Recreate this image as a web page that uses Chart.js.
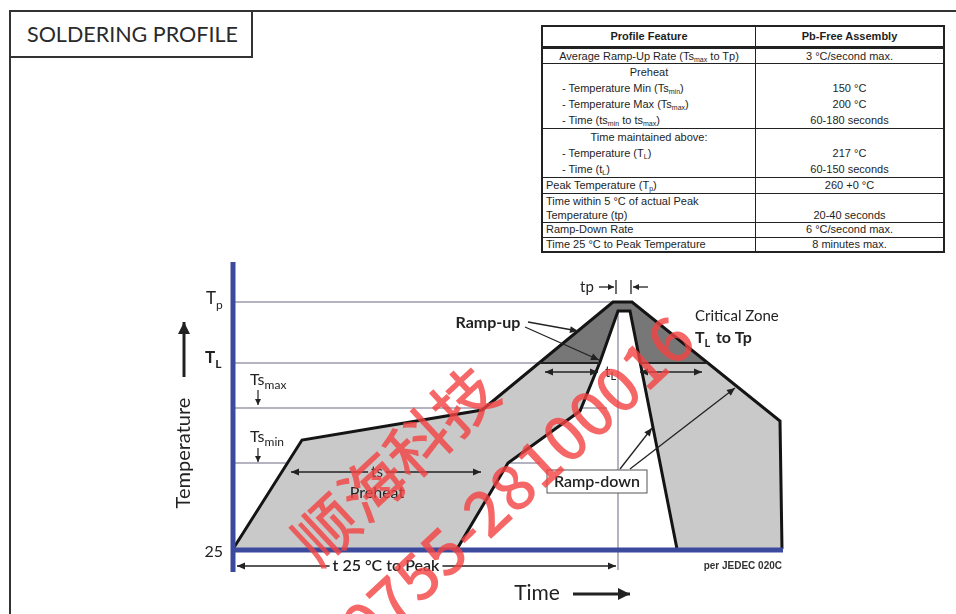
<!DOCTYPE html>
<html>
<head>
<meta charset="utf-8">
<script src="https://cdn.jsdelivr.net/npm/chart.js@4.4.0/dist/chart.umd.min.js"></script>
<style>
    body { margin: 0; background: #fff; }
    #page { position: relative; width: 956px; height: 614px; overflow: hidden; background: #fff; }
    #chartbox { position: absolute; left: 0; top: 0; width: 956px; height: 614px; }
    #frame { position: absolute; left: 9px; top: 10px; width: 1000px; height: 700px;
        border-top: 2px solid #333; border-left: 2px solid #333; }
    #title { position: absolute; left: 9px; top: 10px; width: 244px; height: 48px; box-sizing: border-box;
        border: 2px solid #333; background: #fff; font: 21.5px Lato, sans-serif; color: #2a2a2a;
        line-height: 44px; padding-left: 16px; }
    #spec { position: absolute; left: 541px; top: 25px; width: 404px; border-collapse: collapse;
        border: 2px solid #222; background: #fff; color: #1e1e1e;
        font-family: "Liberation Sans Narrow", "Liberation Sans", Arial, sans-serif; font-size: 11px; }
    #spec td { border: 1.5px solid #222; padding: 0 3px; vertical-align: top; line-height: 14px; white-space: nowrap; }
    #spec th { border: 1.5px solid #222; border-bottom-width: 3px; font-weight: bold; height: 17px; line-height: 17px; }
    #spec td.l { width: 206px; }
    #spec td.r { text-align: center; }
    #spec .c { text-align: center; }
    #spec .ind { padding-left: 16px; }
    #spec .g1 div { line-height: 16px; }
    #spec .g2 div { line-height: 16px; }
    #spec .g3 div { line-height: 14px; }
    #spec tr.p td { line-height: 15px; }
    #spec tr.s td { line-height: 13.5px; }
    #spec tr.e td { line-height: 13px; }
    #spec sub { font-size: 7px; vertical-align: -2px; line-height: 0; }
</style>
</head>
<body>
<div id="page">
    <div id="chartbox"><canvas id="profilChart"></canvas></div>
    <div id="frame"></div>
    <div id="title">SOLDERING PROFILE</div>
    <table id="spec">
        <tr><th>Profile Feature</th><th>Pb-Free Assembly</th></tr>
        <tr><td class="l c">Average Ramp-Up Rate (Ts<sub>max</sub> to Tp)</td><td class="r">3 °C/second max.</td></tr>
        <tr class="g1">
            <td class="l"><div class="c">Preheat</div><div class="ind">- Temperature Min (Ts<sub>min</sub>)</div><div class="ind">- Temperature Max (Ts<sub>max</sub>)</div><div class="ind">- Time (ts<sub>min</sub> to ts<sub>max</sub>)</div></td>
            <td class="r"><div>&nbsp;</div><div>150 °C</div><div>200 °C</div><div>60-180 seconds</div></td>
        </tr>
        <tr class="g2">
            <td class="l"><div class="c">Time maintained above:</div><div class="ind">- Temperature (T<sub>L</sub>)</div><div class="ind">- Time (t<sub>L</sub>)</div></td>
            <td class="r"><div>&nbsp;</div><div>217 °C</div><div>60-150 seconds</div></td>
        </tr>
        <tr class="p"><td class="l">Peak Temperature (T<sub>p</sub>)</td><td class="r">260 +0 °C</td></tr>
        <tr class="g3">
            <td class="l"><div>Time within 5 °C of actual Peak</div><div>Temperature (tp)</div></td>
            <td class="r"><div>&nbsp;</div><div>20-40 seconds</div></td>
        </tr>
        <tr class="s"><td class="l">Ramp-Down Rate</td><td class="r">6 °C/second max.</td></tr>
        <tr class="e"><td class="l">Time 25 °C to Peak Temperature</td><td class="r">8 minutes max.</td></tr>
    </table>
</div>
<script>
// Niveaux de température (échelle du schéma, 0 = 25 °C)
const levelLabels = ['25', 'Ts_min', 'Ts_max', 'T_L', 'T_p'];
const levelValues = [0, 86, 141, 186, 247];

// Profil extérieur (limite haute) et intérieur (limite basse)
const outerTime = [0, 69, 249, 380, 399, 547, 549];
const outerTemp = [0, 109, 139, 247, 247, 128, 0];
const innerTime = [224, 275, 347, 367, 385, 397, 444];
const innerTemp = [0, 86, 138, 187, 238, 238, 0];

const TL = levelValues[3];

function points(xs, ys) {
    return xs.map((x, i) => ({ x: x, y: ys[i] }));
}

// partie d'une courbe au-dessus d'un niveau (zone critique)
function partAbove(xs, ys, level) {
    const out = [];
    for (let i = 0; i < xs.length; i++) {
        if (i > 0 && (ys[i - 1] - level) * (ys[i] - level) < 0) {
            const t = (level - ys[i - 1]) / (ys[i] - ys[i - 1]);
            out.push({ x: xs[i - 1] + t * (xs[i] - xs[i - 1]), y: level });
        }
        if (ys[i] >= level) out.push({ x: xs[i], y: ys[i] });
    }
    return out;
}

const outerPts = points(outerTime, outerTemp);
const innerPts = points(innerTime, innerTemp);
const bodyPts = outerPts.concat(innerPts.slice().reverse());
const outerHigh = partAbove(outerTime, outerTemp, TL);
const innerHigh = partAbove(innerTime, innerTemp, TL);
const zonePts = outerHigh.concat(innerHigh.slice().reverse());

const FONT = 'Lato, "Open Sans", sans-serif';

function fleche(ctx, x1, y1, x2, y2, deux, long, demi) {
    long = long || 8; demi = demi || 3.5;
    ctx.beginPath();
    ctx.moveTo(x1, y1);
    ctx.lineTo(x2, y2);
    ctx.stroke();
    const tete = (ax, ay, bx, by) => {
        const a = Math.atan2(by - ay, bx - ax);
        ctx.beginPath();
        ctx.moveTo(bx, by);
        ctx.lineTo(bx - long * Math.cos(a) + demi * Math.sin(a), by - long * Math.sin(a) - demi * Math.cos(a));
        ctx.lineTo(bx - long * Math.cos(a) - demi * Math.sin(a), by - long * Math.sin(a) + demi * Math.cos(a));
        ctx.closePath();
        ctx.fill();
    };
    tete(x1, y1, x2, y2);
    if (deux) tete(x2, y2, x1, y1);
}

function indice(ctx, base, s, x, y, f1, f2, dy) {
    ctx.textAlign = 'left';
    ctx.font = f1;
    ctx.fillText(base, x, y);
    const w = ctx.measureText(base).width;
    ctx.font = f2;
    ctx.fillText(s, x + w, y + dy);
}

const profilPlugin = {
    id: 'profil',
    beforeDatasetsDraw(chart) {
        const ctx = chart.ctx;
        const X = v => chart.scales.x.getPixelForValue(v);
        const Y = v => chart.scales.y.getPixelForValue(v);
        ctx.save();
        ctx.lineWidth = 1.5;
        // lignes de niveau
        const ends = [0, 307, 374, 307, 380];
        ctx.strokeStyle = '#9b9bab';
        for (let i = 1; i < levelValues.length; i++) {
            ctx.beginPath();
            ctx.moveTo(X(0), Y(levelValues[i]));
            ctx.lineTo(X(ends[i]), Y(levelValues[i]));
            ctx.stroke();
        }
        // verticales
        ctx.beginPath();
        ctx.moveTo(X(385), Y(238)); ctx.lineTo(X(385), Y(-21));
        ctx.stroke();
        ctx.strokeStyle = '#8a8ab0';
        ctx.lineWidth = 1.2;
        ctx.beginPath();
        ctx.moveTo(X(250), Y(141)); ctx.lineTo(X(250), Y(74));
        ctx.moveTo(X(57), Y(86)); ctx.lineTo(X(57), Y(74));
        ctx.stroke();
        ctx.restore();
    },
    afterDatasetsDraw(chart) {
        const ctx = chart.ctx;
        const X = v => chart.scales.x.getPixelForValue(v);
        const Y = v => chart.scales.y.getPixelForValue(v);
        ctx.save();
        // bas de la zone critique
        ctx.strokeStyle = '#222';
        ctx.lineWidth = 2;
        ctx.beginPath();
        ctx.moveTo(X(outerHigh[0].x), Y(TL)); ctx.lineTo(X(innerHigh[0].x), Y(TL));
        ctx.moveTo(X(outerHigh[outerHigh.length - 1].x), Y(TL)); ctx.lineTo(X(innerHigh[innerHigh.length - 1].x), Y(TL));
        ctx.stroke();

        // axes bleus
        ctx.strokeStyle = '#3b4a9c';
        ctx.lineWidth = 5;
        ctx.beginPath();
        ctx.moveTo(X(0), Y(287)); ctx.lineTo(X(0), Y(-23));
        ctx.moveTo(X(-2), Y(-1)); ctx.lineTo(X(550), Y(-1));
        ctx.stroke();

        // cotes
        ctx.strokeStyle = '#222';
        ctx.fillStyle = '#222';
        ctx.lineWidth = 1.3;
        fleche(ctx, X(4), Y(-17), X(383), Y(-17), true);
        fleche(ctx, X(58), Y(77), X(248), Y(77), true);
        fleche(ctx, X(312), Y(177), X(365), Y(177), true);
        fleche(ctx, X(407), Y(177), X(469), Y(177), true);
        // tp
        fleche(ctx, X(366), Y(262), X(381), Y(262), false, 6, 3);
        fleche(ctx, X(415), Y(262), X(400), Y(262), false, 6, 3);
        ctx.beginPath();
        ctx.moveTo(X(383), Y(269)); ctx.lineTo(X(383), Y(255));
        ctx.moveTo(X(398), Y(269)); ctx.lineTo(X(398), Y(255));
        ctx.stroke();
        // ramp-up / ramp-down
        fleche(ctx, X(295), Y(227), X(345), Y(218), false);
        fleche(ctx, X(292), Y(222), X(366), Y(189), false);
        fleche(ctx, X(387), Y(80), X(419), Y(121), false);
        fleche(ctx, X(397), Y(80), X(502), Y(161), false);

        // textes
        ctx.textBaseline = 'middle';
        ctx.textAlign = 'center';
        ctx.font = '600 16px ' + FONT;
        let w = ctx.measureText('t 25 °C to Peak').width;
        ctx.fillStyle = '#fff';
        ctx.fillRect(X(153) - w / 2 - 3, Y(-17) - 8, w + 6, 16);
        ctx.fillStyle = '#222';
        ctx.fillText('t 25 °C to Peak', X(153), Y(-17));

        ctx.font = '15px ' + FONT;
        w = ctx.measureText('ts').width;
        ctx.fillStyle = '#c9c9c9';
        ctx.fillRect(X(144) - w / 2 - 3, Y(77) - 7, w + 6, 14);
        ctx.fillStyle = '#222';
        ctx.fillText('ts', X(144), Y(77));
        ctx.font = '16px ' + FONT;
        ctx.fillText('Preheat', X(144), Y(56));

        indice(ctx, 't', 'L', X(372), Y(177), '15px ' + FONT, '11px ' + FONT, 4);

        ctx.textAlign = 'center';
        ctx.font = '15px ' + FONT;
        ctx.fillText('tp', X(354), Y(262));

        ctx.font = 'bold 16px ' + FONT;
        ctx.fillText('Ramp-up', X(255), Y(226));

        ctx.textAlign = 'left';
        ctx.font = '15px ' + FONT;
        ctx.fillText('Critical Zone', X(462), Y(233));
        indice(ctx, 'T', 'L', X(462), Y(211), 'bold 16px ' + FONT, 'bold 11px ' + FONT, 5);
        ctx.font = 'bold 16px ' + FONT;
        ctx.fillText(' to Tp', X(462) + 17, Y(211));

        // boîte ramp-down
        ctx.fillStyle = '#fff';
        ctx.fillRect(X(314), Y(79), X(414) - X(314), Y(56) - Y(79));
        ctx.strokeStyle = '#555';
        ctx.lineWidth = 1;
        ctx.strokeRect(X(314), Y(79), X(414) - X(314), Y(56) - Y(79));
        ctx.fillStyle = '#222';
        ctx.textAlign = 'center';
        ctx.font = '600 16px ' + FONT;
        ctx.fillText('Ramp-down', X(364), Y(67.5));

        // étiquettes des niveaux
        ctx.textAlign = 'right';
        ctx.font = '16px ' + FONT;
        ctx.fillText(levelLabels[0], X(-10), Y(-3));
        indice(ctx, 'T', 'p', X(-27), Y(levelValues[4] + 3), '17px ' + FONT, '12px ' + FONT, 6);
        indice(ctx, 'T', 'L', X(-28), Y(levelValues[3] + 5), 'bold 17px ' + FONT, 'bold 12px ' + FONT, 6);
        indice(ctx, 'Ts', 'max', X(17), Y(levelValues[2] + 28), '16px ' + FONT, '12px ' + FONT, 5);
        indice(ctx, 'Ts', 'min', X(17), Y(levelValues[1] + 26), '16px ' + FONT, '12px ' + FONT, 5);
        ctx.lineWidth = 1.2;
        ctx.strokeStyle = '#222';
        fleche(ctx, X(25), Y(levelValues[2] + 18), X(25), Y(levelValues[2] + 3), false, 6, 3);
        fleche(ctx, X(25), Y(levelValues[1] + 15), X(25), Y(levelValues[1] + 1), false, 6, 3);

        // titres des axes
        ctx.save();
        ctx.translate(X(-49), Y(96));
        ctx.rotate(-Math.PI / 2);
        ctx.textAlign = 'center';
        ctx.font = '20px ' + FONT;
        ctx.fillText('Temperature', 0, 0);
        ctx.restore();
        ctx.lineWidth = 3;
        fleche(ctx, X(-49), Y(172), X(-49), Y(227), false, 12, 6);

        ctx.textAlign = 'center';
        ctx.font = '21px ' + FONT;
        ctx.fillText('Time', X(304), Y(-44));
        fleche(ctx, X(340), Y(-45), X(397), Y(-45), false, 12, 6);

        ctx.textAlign = 'right';
        ctx.font = 'bold 10px "Liberation Sans Narrow", "Liberation Sans", sans-serif';
        ctx.fillStyle = '#333';
        ctx.fillText('per JEDEC 020C', X(549), Y(-17));
        ctx.restore();
    },
    afterDraw(chart) {
        // filigrane
        const ctx = chart.ctx;
        const lignes = [
            { texte: '顺海科技', cx: 395, cy: 465 },
            { texte: '0755-28100016', cx: 517, cy: 482 }
        ];
        lignes.forEach(l => {
            ctx.save();
            ctx.fillStyle = 'rgba(244, 66, 66, 0.8)';
            ctx.textAlign = 'center';
            ctx.textBaseline = 'middle';
            ctx.translate(l.cx, l.cy);
            ctx.rotate(-43 * Math.PI / 180);
            ctx.font = '500 63px "Noto Sans CJK SC", sans-serif';
            ctx.fillText(l.texte, 0, 0);
            ctx.restore();
        });
    }
};

new Chart(document.getElementById('profilChart').getContext('2d'), {
    type: 'line',
    data: {
        datasets: [
            {
                label: 'Outer',
                data: outerPts,
                borderColor: '#141414',
                borderWidth: 3,
                fill: false,
                pointRadius: 0,
                clip: false,
                order: 1
            },
            {
                label: 'Inner',
                data: innerPts,
                borderColor: '#141414',
                borderWidth: 3,
                fill: false,
                pointRadius: 0,
                clip: false,
                order: 1
            },
            {
                label: 'Critical zone',
                data: zonePts,
                borderWidth: 0,
                backgroundColor: '#777777',
                fill: 'shape',
                pointRadius: 0,
                clip: false,
                order: 3
            },
            {
                label: 'Profile',
                data: bodyPts,
                borderWidth: 0,
                backgroundColor: '#c9c9c9',
                fill: 'shape',
                pointRadius: 0,
                clip: false,
                order: 4
            }
        ]
    },
    options: {
        responsive: true,
        maintainAspectRatio: false,
        animation: false,
        events: [],
        layout: { padding: { left: 233, top: 262, right: 173, bottom: 65 } },
        scales: {
            x: { type: 'linear', min: 0, max: 550, display: false },
            y: { type: 'linear', min: 0, max: 287, display: false }
        },
        plugins: {
            legend: { display: false },
            tooltip: { enabled: false }
        }
    },
    plugins: [profilPlugin]
});
</script>
</body>
</html>
